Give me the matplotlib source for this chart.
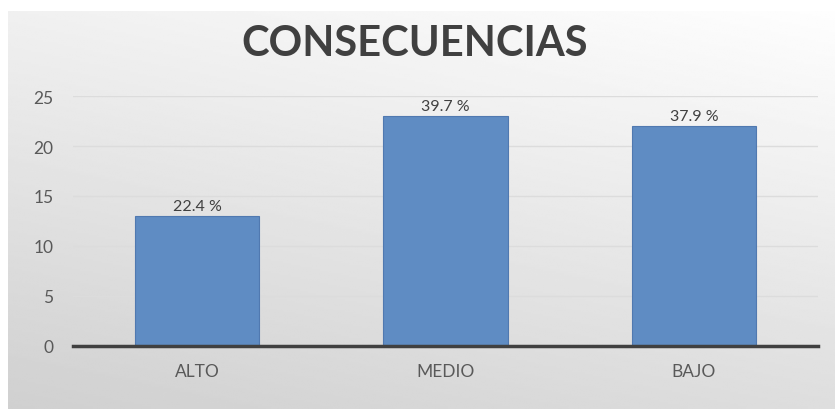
import numpy as np
import matplotlib
matplotlib.use("Agg")
from matplotlib import pyplot as plt

categories = ["ALTO", "MEDIO", "BAJO"]
counts = [13, 23, 22]
percent_labels = ["22.4 %", "39.7 %", "37.9 %"]
y_ticks = [0, 5, 10, 15, 20, 25]

plt.rcParams['font.family'] = ['Lato', 'DejaVu Sans']

fig = plt.figure(figsize=(8.35, 4.1), dpi=100)
fig.patch.set_facecolor("white")

# gray gradient background of the chart area
bg = fig.add_axes([8 / 835, 0, 1 - 8 / 835, 398 / 410])
gx, gy = np.meshgrid(np.linspace(0, 1, 200), np.linspace(0, 1, 200))
shade = 0.995 - 0.18 * (0.7 * gy + 0.3 * (1 - gx))
bg.imshow(shade, cmap="gray", vmin=0, vmax=1, aspect="auto",
          extent=(0, 1, 1, 0), interpolation="bilinear")
bg.set_axis_off()

ax = fig.add_axes([73 / 835, 63 / 410, 745 / 835, 250 / 410])
ax.patch.set_alpha(0)

x = np.arange(len(categories))
bars = ax.bar(x, counts, width=0.5, color="#5f8cc3", edgecolor="#5079b0",
              linewidth=0.8, zorder=3)

for b, lab in zip(bars, percent_labels):
    ax.annotate(lab, (b.get_x() + b.get_width() / 2, b.get_height()),
                xytext=(0, 2), textcoords="offset points",
                ha="center", va="bottom", fontsize=11.5, color="#404040")

ax.set_xlim(-0.5, len(categories) - 0.5)
ax.set_ylim(0, 25)
ax.set_yticks(y_ticks)
ax.set_xticks(x)
ax.set_xticklabels(categories)
ax.tick_params(axis="both", length=0, labelsize=12.5, colors="#595959")
ax.tick_params(axis="y", pad=14)
ax.tick_params(axis="x", pad=12)

ax.yaxis.grid(True, color="#dcdcdc", linewidth=1, zorder=0)
for s in ["top", "right", "left"]:
    ax.spines[s].set_visible(False)
ax.spines["bottom"].set_color("#404040")
ax.spines["bottom"].set_linewidth(2.5)
ax.spines["bottom"].set_zorder(4)

fig.text(0.497, 0.893, "CONSECUENCIAS", ha="center", va="center",
         fontsize=30, fontweight="bold", color="#404040")

fig.savefig("out.png", dpi=100)
